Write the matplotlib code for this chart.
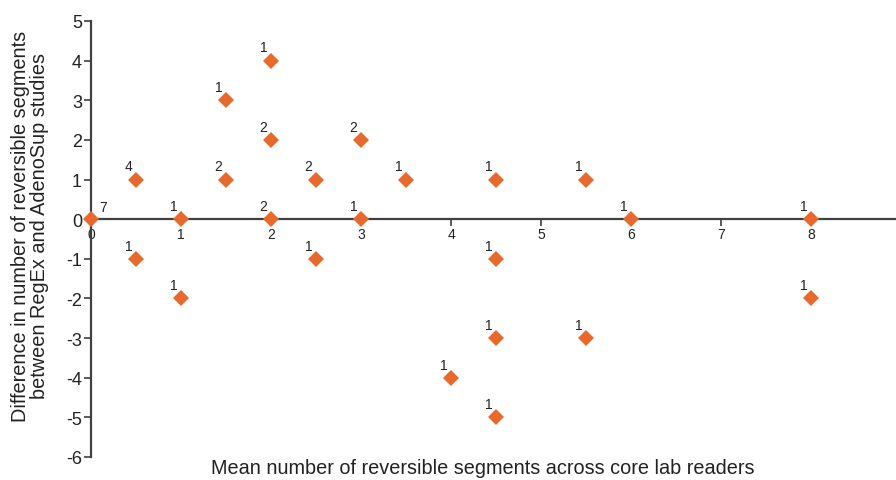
import matplotlib
matplotlib.use("Agg")
import matplotlib.pyplot as plt

# data
x_vals = [0, 0.5, 0.5, 1, 1, 1.5, 1.5, 2, 2, 2, 2.5, 2.5, 3, 3, 3.5, 4, 4.5, 4.5, 4.5, 4.5, 5.5, 5.5, 6, 8, 8]
y_vals = [0, 1, -1, 0, -2, 3, 1, 4, 2, 0, 1, -1, 2, 0, 1, -4, 1, -1, -3, -5, 1, -3, 0, 0, -2]
counts = [7, 4, 1, 1, 1, 1, 2, 1, 2, 2, 2, 1, 2, 1, 1, 1, 1, 1, 1, 1, 1, 1, 1, 1, 1]
x_ticks = [0, 1, 2, 3, 4, 5, 6, 7, 8]
y_ticks = [-6, -5, -4, -3, -2, -1, 0, 1, 2, 3, 4, 5]

plt.rcParams['font.family'] = ['Liberation Sans', 'DejaVu Sans']

W, H = 896, 481
fig = plt.figure(figsize=(W / 100, H / 100), dpi=100)
left_px, right_px, top_px, bot_px = 91, 901, 22, 458
ax = fig.add_axes([left_px / W, (H - bot_px) / H, (right_px - left_px) / W, (bot_px - top_px) / H])
ax.set_xlim(0, 9)
ax.set_ylim(-6, 5)

col_axis = '#404040'
orange = '#E8692C'
txt = '#222222'

ax.spines['top'].set_visible(False)
ax.spines['right'].set_visible(False)
ax.spines['left'].set_color(col_axis)
ax.spines['left'].set_linewidth(1.6)
ax.spines['bottom'].set_position(('data', 0))
ax.spines['bottom'].set_color(col_axis)
ax.spines['bottom'].set_linewidth(1.6)
ax.spines['bottom'].set_zorder(1)

ax.set_xticks(x_ticks)
ax.set_xticklabels([str(t) for t in x_ticks])
ax.set_yticks(y_ticks)
ax.set_yticklabels([str(t) for t in y_ticks])
ax.tick_params(axis='x', direction='out', length=5, width=1.2, color=col_axis,
               labelsize=10, pad=0.5, labelcolor=txt)
ax.tick_params(axis='y', direction='out', length=5, width=1.2, color=col_axis,
               labelsize=13, pad=1.5, labelcolor=txt)

ax.plot(x_vals, y_vals, linestyle='none', marker='D', markersize=8.3,
        color=orange, markeredgewidth=0, zorder=3, clip_on=False)

for x, y, c in zip(x_vals, y_vals, counts):
    off = (9, 9) if c == 7 else (-5.5, 9.5)
    ax.annotate(str(c), (x, y), xytext=off, textcoords='offset points',
                ha='center', va='center', fontsize=10, color=txt)

fig.text(483 / W, 1 - 469 / H, 'Mean number of reversible segments across core lab readers',
         ha='center', va='center', fontsize=14.3, color=txt)
fig.text(30 / W, 1 - 226 / H,
         'Difference in number of reversible segments\nbetween RegEx and AdenoSup studies',
         ha='center', va='center', rotation=90, fontsize=14.3, color=txt,
         linespacing=1.0)

fig.savefig('out.png', dpi=100)
